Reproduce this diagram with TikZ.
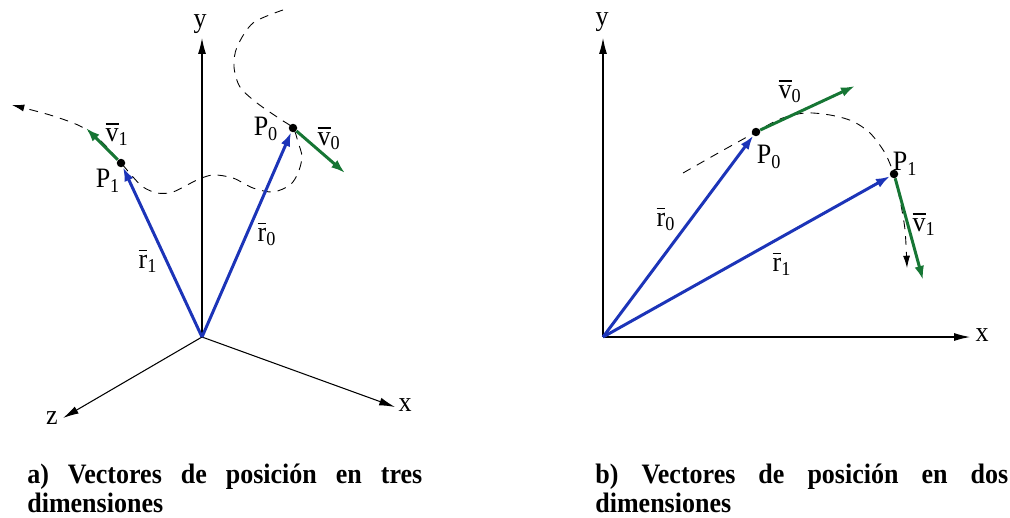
\documentclass[tikz,border=0pt]{standalone}
\usepackage{amsmath}
\usepackage{fontspec}
\setmainfont{Liberation Serif}[FakeStretch=0.925]
\usepackage{tikz}
\usetikzlibrary{arrows.meta,positioning}
\definecolor{rblue}{RGB}{28,52,184}
\definecolor{vgreen}{RGB}{22,118,52}
\hyphenation{dimensiones}

\begin{document}
\begin{tikzpicture}[x=0.02cm, y=-0.02cm,
    axis/.style={-{Latex[length=9pt,width=4.5pt]}, line width=0.6pt},
    rvec/.style={-{Latex[length=8pt,width=5.5pt]}, rblue, line width=1.7pt},
    vvec/.style={-{Latex[length=8pt,width=5.5pt]}, vgreen, line width=1.7pt},
    traj/.style={dash pattern=on 5pt off 4pt, line width=0.5pt, -{Latex[length=7pt,width=4pt]}},
    dot/.style={circle, fill=black, inner sep=0pt, minimum size=0.17cm},
    lab/.style={inner sep=0pt, font=\fontsize{16}{17}\selectfont},
    capt/.style={anchor=north west, inner sep=0pt, align=justify,
        font=\bfseries\fontsize{16}{16.4}\selectfont}]
    \useasboundingbox (0,0) rectangle (1010,517);

    % a) three dimensions
    \coordinate (o3d) at (202,337);
    \coordinate (y3d) at (202,38);
    \coordinate (x3d) at (395,407);
    \coordinate (z3d) at (63,418);
    \node (p0l) [dot] at (293,128) {};
    \node (p1l) [dot] at (121,163) {};
    \coordinate (v0l) at (345,173);
    \coordinate (v1l) at (86,128);

    \draw[traj] plot[smooth] coordinates {(283,10) (253,23) (237,47) (234,67) (240,87)
        (257,103) (280,119) (p0l.center) (298,142) (302,157) (298,173) (290,185)
        (273,192) (253,188) (233,178) (213,175) (197,180) (173,192) (157,193)
        (143,187) (133,177) (p1l.center) (100,140) (80,126) (50,115) (12,105)};

    \draw[axis] (o3d) -- (y3d);
    \draw[axis] (o3d) -- (x3d);
    \draw[axis] (o3d) -- (z3d);
    \draw[rvec] (o3d) -- (p0l);
    \draw[rvec] (o3d) -- (p1l);
    \draw[vvec] (p0l) -- (v0l);
    \draw[vvec] (p1l) -- (v1l);

    \node (ylab3d) [lab] at (200,24) {y};
    \node (xlab3d) [lab] at (405,405) {x};
    \node (zlab3d) [lab] at (52,418) {z};
    \node (p0lab) [lab] at (266,129) {P$_{\text{0}}$};
    \node (p1lab) [lab] at (108,181) {P$_{\text{1}}$};
    \node (v0lab) [lab] at (329,138) {$\overline{\text{v}}_{\text{0}}$};
    \node (v1lab) [lab] at (117,134) {$\overline{\text{v}}_{\text{1}}$};
    \node (r0lab) [lab] at (267,234) {$\overline{\text{r}}_{\text{0}}$};
    \node (r1lab) [lab] at (148,261) {$\overline{\text{r}}_{\text{1}}$};

    % b) two dimensions
    \coordinate (o2d) at (603,337);
    \coordinate (y2d) at (603,38);
    \coordinate (x2d) at (970,337);
    \node (p0r) [dot] at (756,132) {};
    \node (p1r) [dot] at (894,174) {};
    \coordinate (v0r) at (855,86);
    \coordinate (v1r) at (923,280);

    \draw[traj, -] plot[smooth] coordinates {(683,173) (720,152) (p0r.center) (780,119)
        (805,113) (830,115) (852,121) (870,133) (885,153) (p1r.center)};
    \draw[traj] plot[smooth] coordinates {(p1r.center) (900,200) (905,230) (907,268)};

    \draw[axis] (o2d) -- (y2d);
    \draw[axis] (o2d) -- (x2d);
    \draw[rvec] (o2d) -- (p0r);
    \draw[rvec] (o2d) -- (p1r);
    \draw[vvec] (p0r) -- (v0r);
    \draw[vvec] (p1r) -- (v1r);

    \node (ylab2d) [lab] at (602,22) {y};
    \node (xlab2d) [lab] at (982,335) {x};
    \node (p0rlab) [lab] at (769,157) {P$_{\text{0}}$};
    \node (p1rlab) [lab] at (905,164) {P$_{\text{1}}$};
    \node (v0rlab) [lab] at (790,91) {$\overline{\text{v}}_{\text{0}}$};
    \node (v1rlab) [lab] at (924,224) {$\overline{\text{v}}_{\text{1}}$};
    \node (r0rlab) [lab] at (666,219) {$\overline{\text{r}}_{\text{0}}$};
    \node (r1rlab) [lab] at (782,264) {$\overline{\text{r}}_{\text{1}}$};

    % captions
    \node (capa) [capt, text width=7.9cm] at (27,464) {a) Vectores de posición en tres dimensiones};
    \node (capb) [capt, text width=8.26cm] at (595,464) {b) Vectores de posición en dos dimensiones};
\end{tikzpicture}
\end{document}
